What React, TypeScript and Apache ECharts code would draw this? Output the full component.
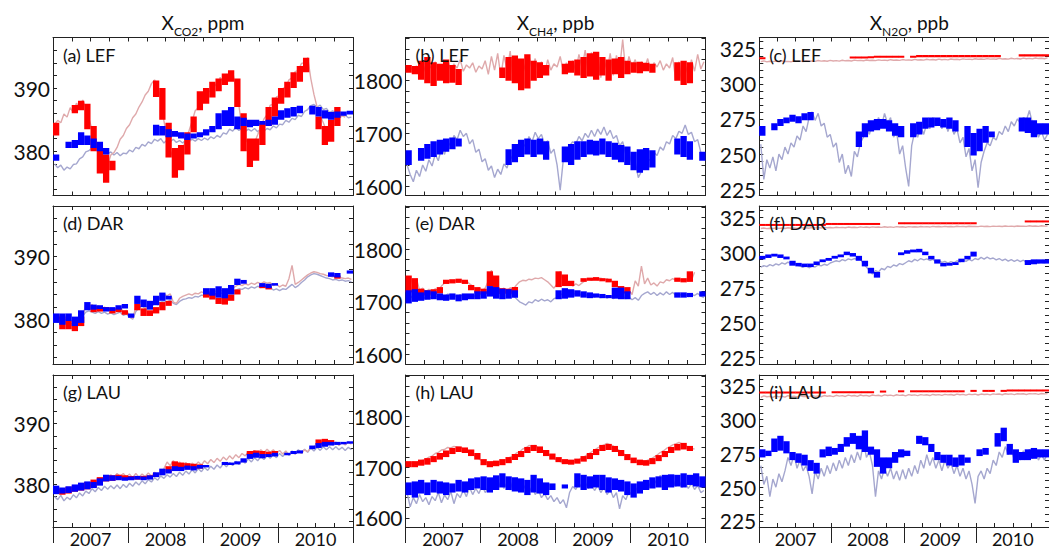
import React, { useEffect, useRef } from "react";
import * as echarts from "echarts";

// ---------- time grids ----------
const YEAR0 = 2007;
const HALF_T = Array.from({ length: 96 }, (_, k) => YEAR0 + (k + 0.5) / 24);
const MONTH_T = Array.from({ length: 48 }, (_, m) => YEAR0 + (m + 0.5) / 12);

// ---------- axis ticks / labels ----------
const QUARTER_TICKS = [2007.25, 2007.5, 2007.75, 2008, 2008.25, 2008.5, 2008.75, 2009, 2009.25, 2009.5, 2009.75, 2010, 2010.25, 2010.5, 2010.75];
const YEAR_TICKS = [2007, 2008, 2009, 2010, 2011];
const YEAR_LABEL_POS = [2007.5, 2008.5, 2009.5, 2010.5];
const CO2_TICKS = [374, 376, 378, 380, 382, 384, 386, 388, 390, 392, 394, 396, 398];
const CO2_LABELS = [380, 390];
const CH4_TICKS = [1600, 1620, 1640, 1660, 1680, 1700, 1720, 1740, 1760, 1780, 1800, 1820, 1840, 1860, 1880];
const CH4_LABELS = [1600, 1700, 1800];
const N2O_TICKS = [225, 230, 235, 240, 245, 250, 255, 260, 265, 270, 275, 280, 285, 290, 295, 300, 305, 310, 315, 320, 325, 330];
const N2O_LABELS = [225, 250, 275, 300, 325];

// ---------- (a) LEF CO2 ----------
const aPink = [384.2,384.9,384.5,385.9,385.4,386.9,386.1,387.6,387.0,388.1,
387.0,385.2,383.4,381.8,380.2,378.6,378.9,377.8,379.4,379.8,
380.6,381.9,382.5,383.6,384.2,385.3,385.9,387.0,387.8,388.9,
389.5,390.7,391.3,390.2,388.3,384.8,382.0,380.1,379.0,379.6,
378.9,380.4,381.9,383.2,384.7,386.4,386.9,388.5,388.2,389.8,
389.3,390.8,390.2,391.7,390.8,392.2,391.5,392.6,390.0,387.2,
383.6,382.0,381.2,380.6,381.4,382.6,383.9,385.1,385.8,387.3,
387.4,388.6,388.8,389.9,390.2,391.3,391.6,392.6,392.8,393.9,
394.0,394.8,391.5,389.0,387.0,385.6,384.5,383.2,383.8,384.6,
385.8,385.2,385.6,385.4,null,null];
const aGrey = [378.0,377.4,377.8,377.0,377.5,377.2,377.9,378.0,378.8,379.1,
379.9,380.1,380.6,380.2,380.7,380.1,380.0,379.6,379.9,379.4,
379.8,379.3,379.7,379.6,380.2,379.9,380.6,380.4,381.1,380.8,
381.5,381.2,381.9,381.6,382.0,381.3,381.8,381.5,381.9,381.4,
381.7,381.3,381.8,381.5,381.9,381.6,382.0,381.7,382.1,381.8,
382.3,382.0,382.5,382.2,382.9,382.7,383.5,383.2,383.8,383.3,
383.6,383.1,383.5,383.2,383.6,383.1,383.5,383.2,383.6,383.4,
384.0,383.7,384.3,384.2,384.9,384.6,385.2,385.0,385.7,385.5,
386.3,386.6,387.2,387.4,387.0,387.3,386.6,386.8,386.1,386.4,
385.8,386.0,385.6,385.7,385.3,385.4];
const aRed = [[382.5,384.5],null,null,[386,387.3],[386.5,388],[383.5,387.5],[380,384],[376.5,381],[375,379.5],[377,378.5],
null,null,null,null,null,null,[388.6,391.2],[385,390],[379,384.5],[375.8,380.5],
[377,381],[379.5,383],[383,385.5],[386.5,389.5],[387.5,390],[388.5,391],[389.5,391.5],[390.5,392.3],[391,392.8],[387,391.5],
[380,386],[377.5,382],[378.5,382],[381,384.5],[384,387],[385.5,388.5],[387.5,390],[388.5,391],[390,392.5],[391,393.5],
[392.5,394.8],null,[383.5,385.5],[381,384],[381.5,385],[384,387],null,null];
const aBlue = [[378.5,379.5],null,[380.5,381.5],[380.5,381.8],[381,383],[381,382.5],[380.5,382],[380,381.5],[379.5,380.5],null,
null,null,null,null,null,null,[382.5,384.2],[382.5,384],[382.2,383.5],[382.3,383.2],
[382,383],[381.8,382.8],[382,382.8],[382.2,383],[382.5,383.5],[383,384],[383.5,386],[384,386.5],[384,387],[383.5,385.5],
[384,385.3],[383.8,385],[384,385],[384.2,384.8],[384,385],[384.2,385.5],[385,386.5],[385.3,386.8],[385.5,387],[386,387.2],
null,[385.8,387.2],[385.5,387],[385.2,386.5],[385,386.2],[385.3,386.3],[385.6,386.3],[385.8,386.4]];

// ---------- (b) LEF CH4 ----------
const bPink = [1822,1826,1818,1828,1820,1832,1816,1830,1822,1836,
1818,1830,1826,1838,1820,1832,1824,1840,1818,1830,
1824,1834,1816,1828,1822,1838,1812,1846,1820,1852,
1808,1848,1820,1856,1800,1844,1790,1838,1816,1848,
1822,1842,1818,1836,1812,1840,1820,1832,1826,1846,
1818,1834,1822,1838,1818,1850,1824,1858,1812,1854,
1820,1846,1806,1842,1818,1852,1810,1848,1822,1878,
1816,1846,1826,1840,1820,1836,1824,1842,1818,1834,
1826,1838,1820,1832,1824,1844,1800,1836,1792,1830,
1810,1840,1818,1850,1822,1836];
const bGrey = [1640,1622,1608,1630,1618,1640,1628,1650,1638,1660,
1648,1672,1660,1684,1676,1696,1688,1706,1694,1700,
1680,1688,1664,1670,1646,1652,1630,1638,1616,1632,
1622,1642,1634,1658,1648,1670,1660,1682,1674,1694,
1684,1702,1690,1698,1680,1686,1662,1670,1640,1592,
1650,1666,1676,1684,1680,1694,1686,1700,1692,1706,
1694,1708,1698,1712,1696,1706,1690,1696,1676,1684,
1660,1664,1640,1646,1616,1628,1640,1652,1648,1664,
1658,1674,1668,1684,1680,1696,1690,1704,1700,1716,
1698,1702,1684,1688,1664,1656];
const bRed = [[1815,1830],[1812,1828],[1802,1838],[1795,1845],[1790,1835],[1800,1832],[1795,1840],[1796,1830],[1792,1822],null,
null,null,null,null,null,[1805,1825],[1800,1845],[1795,1848],[1782,1842],[1785,1850],
[1800,1838],[1805,1835],[1810,1830],null,null,[1812,1832],[1815,1838],[1810,1840],[1805,1845],[1808,1852],
[1802,1855],[1810,1845],[1800,1840],[1812,1842],[1805,1845],[1812,1838],[1815,1835],[1814,1836],[1818,1834],[1815,1832],
null,null,null,[1800,1835],[1792,1838],[1795,1835],null,null];
const bBlue = [[1640,1668],null,[1648,1672],[1652,1680],[1655,1685],[1660,1688],[1665,1690],[1670,1692],[1675,1690],null,
null,null,null,null,null,null,[1640,1670],[1645,1680],[1655,1688],[1660,1690],
[1655,1688],[1660,1690],[1650,1685],null,null,[1645,1675],[1640,1680],[1650,1685],[1655,1685],[1660,1688],
[1658,1686],[1660,1690],[1655,1685],[1650,1682],[1645,1678],[1640,1675],[1630,1665],[1625,1670],[1630,1672],[1635,1668],
null,null,null,[1660,1690],[1655,1695],[1650,1685],null,[1648,1665]];

// ---------- (c) LEF N2O ----------
const cPink = [315.8,316.3,315.6,316.1,315.8,316.2,315.7,316.3,315.9,316.0,
315.7,316.4,316.0,316.2,315.9,316.5,316.1,316.3,316.0,316.6,
316.2,316.4,316.1,316.7,316.3,316.5,316.2,316.8,316.4,316.6,
316.3,316.9,316.5,316.7,316.4,317.0,316.6,316.8,316.5,317.1,
316.7,316.9,316.6,317.2,316.8,317.0,316.7,317.3,316.9,317.1,
316.8,317.4,317.0,317.2,316.9,317.5,317.1,317.3,317.0,317.6,
317.2,317.4,317.1,317.7,317.3,317.5,317.2,317.8,317.4,317.6,
317.3,317.9,317.5,317.7,317.4,318.0,317.6,317.8,317.5,318.1,
317.7,317.9,317.6,318.2,317.8,318.0,317.7,318.3,317.9,318.1,
317.8,318.4,318.0,318.2,317.9,318.5];
const cGrey = [257,232,246,240,248,238,250,246,255,250,
258,255,263,260,270,266,276,280,274,279,
270,272,262,264,255,258,244,250,236,242,
234,252,248,258,262,268,264,272,268,276,
270,279,272,276,262,266,250,256,240,227,
256,266,262,270,264,272,268,276,270,275,
268,274,266,272,264,268,258,262,248,254,
238,246,226,244,252,258,256,262,260,266,
264,270,266,273,270,275,272,276,274,281,
272,268,262,266,260,264];
const cRed = [[317.5,318.5],null,null,null,null,null,null,null,null,null,
null,null,null,null,null,[318,319.3],[318,319.3],[318,319.3],[318.3,319.5],[318.5,320],
[318.5,320],[318.5,320],[318.5,320],[318.5,319.5],null,[318.5,319.8],[319,320.5],[319,320.5],[319,320.5],[319,320.5],
[319,320.5],[319,320.5],[319,320.5],[319,320.5],[319,320.5],[319,320.5],[319,320.5],[319,320.5],[319,320.5],[319,320.5],
null,null,null,[319.5,321],[319.5,321],[319.5,321],[319.5,321],[319.5,321]];
const cBlue = [[263,270],null,[267,272],[270,275],[272,276],[273,278],[272,277],[274,279],[274,280],null,
null,null,null,null,null,null,[255,266],[262,272],[266,274],[267,275],
[268,275],[266,274],[263,272],[262,270],null,[262,272],[264,273],[268,276],[269,276],[270,276],
[269,275],[268,276],[266,274],null,[255,270],[249,265],[252,268],[258,270],[262,266],null,
null,null,null,[266,276],[265,276],[262,274],[264,272],[264,272]];

// ---------- (d) DAR CO2 ----------
const dPink = [380.2,379.6,380.0,379.4,379.8,379.2,379.6,379.3,379.9,380.3,
382.6,382.2,382.4,381.9,382.2,381.8,382.0,381.6,381.8,381.4,
381.7,381.9,381.3,381.5,380.6,380.2,382.0,383.2,382.6,381.8,
382.3,382.0,382.8,383.2,383.6,384.0,383.8,384.1,382.8,382.6,
383.4,383.7,383.9,384.1,383.9,384.2,384.1,384.4,384.2,384.5,
384.3,384.6,384.4,384.7,384.5,384.8,384.6,385.0,385.3,385.6,
385.4,385.7,385.5,385.8,385.6,385.9,385.7,386.0,385.8,385.9,
385.4,385.7,385.2,385.5,385.3,386.5,388.6,385.6,385.9,386.3,
386.7,387.1,387.4,387.6,387.5,387.3,387.2,387.0,386.9,386.8,
386.9,386.7,386.6,386.5,386.6,386.4];
const dGrey = [380.6,380.1,380.4,379.8,380.2,379.6,380.0,379.7,380.2,380.6,
381.2,381.4,381.2,381.0,381.3,381.0,381.2,380.9,381.1,380.8,
381.0,381.2,380.7,380.9,380.4,380.1,381.3,381.9,382.2,381.8,
382.4,382.1,382.6,382.4,382.8,383.0,382.8,383.1,382.6,382.4,
382.9,383.2,383.3,383.5,383.4,383.7,383.6,383.9,383.8,384.0,
383.9,384.2,384.0,384.3,384.1,384.4,384.2,384.5,384.7,384.9,
384.8,385.1,384.9,385.2,385.0,385.3,385.1,385.4,385.2,385.1,
384.7,384.9,384.6,384.9,384.8,385.2,385.6,385.1,385.4,385.9,
386.3,386.8,387.1,387.3,387.2,387.0,386.8,386.6,386.5,386.3,
386.4,386.2,386.3,386.1,386.2,386.0];
const dRed = [[379.8,380.8],[378.5,380.5],[378.5,379.8],[378.2,379.5],[379,380.5],null,[381.2,382.2],[381.3,382],[381.5,382],[381,381.8],
[381.2,381.8],[380.8,381.5],null,[381.5,382.5],[380.6,381.8],[380.6,381.5],[381,382],[381.5,382.8],[382.2,383],null,
null,null,null,null,[383.5,384.5],[383.2,384.3],[382.5,383.5],[382.4,383.6],[383,384],[384,384.8],
null,null,null,[385,385.6],[384.8,385.3],null,null,null,null,null,
null,null,null,null,null,[386.5,387],null,null];
const dBlue = [[379.5,381],[379.2,381],[379.8,381],[379,380.5],[379.5,381.5],[381.5,382.8],[381.6,382.4],[381.7,382.3],[381.3,382],[381.4,382],
[381.6,382.3],[381.8,382.5],[380.3,381],[382.5,383.8],[382,383.2],[381.6,383],[382.3,383.8],[383,384.3],[383.2,383.8],null,
null,null,null,null,[384,385],[383.8,385],[383.5,385.3],[383.4,385],[384,385.5],[385.5,386.5],
[385.7,386.3],null,null,[385.2,385.8],[385,385.7],[385.4,385.8],null,null,null,null,
null,null,null,null,[386.8,387.5],[386.7,387.4],null,[387.3,387.8]];

// ---------- (e) DAR CH4 ----------
const ePink = [1724,1748,1730,1744,1722,1726,1719,1724,1718,1725,
1722,1730,1736,1740,1738,1741,1739,1742,1738,1740,
1734,1730,1724,1727,1721,1726,1740,1760,1738,1728,
1722,1726,1720,1727,1724,1732,1738,1741,1740,1743,
1742,1745,1744,1746,1742,1738,1732,1726,1734,1758,
1736,1732,1735,1730,1734,1731,1736,1740,1743,1741,
1744,1742,1745,1741,1744,1740,1738,1730,1726,1720,
1716,1722,1714,1740,1730,1768,1734,1745,1732,1736,
1730,1738,1736,1742,1740,1744,1741,1743,1740,1742,
1739,1741,1756,null,null,null];
const eGrey = [1704,1712,1706,1714,1708,1712,1705,1710,1706,1712,
1708,1714,1710,1715,1711,1713,1709,1714,1710,1712,
1708,1713,1710,1716,1713,1718,1720,1724,1719,1723,
1718,1722,1716,1719,1712,1706,1700,1697,1694,1700,
1698,1704,1701,1705,1702,1704,1700,1706,1708,1716,
1712,1718,1714,1719,1713,1717,1711,1715,1710,1714,
1709,1713,1708,1712,1707,1711,1706,1710,1707,1711,
1706,1709,1704,1708,1703,1712,1716,1719,1714,1718,
1712,1717,1713,1719,1714,1718,1712,1716,1711,1715,
1710,1714,1712,1716,1711,1708];
const eRed = [[1718,1750],[1718,1745],[1712,1725],[1712,1722],[1714,1724],[1716,1728],[1734,1742],[1735,1743],[1736,1744],[1734,1742],
[1722,1732],[1718,1728],[1715,1725],[1730,1758],[1725,1750],[1715,1726],[1716,1725],[1718,1728],null,null,
null,null,null,null,[1728,1758],[1730,1752],[1730,1740],null,[1738,1745],[1740,1746],
[1740,1747],[1739,1745],[1737,1744],[1728,1740],[1718,1730],[1716,1728],null,null,null,null,
null,null,null,[1738,1746],[1737,1745],[1738,1758],null,null];
const eBlue = [[1697,1722],[1700,1724],[1702,1718],[1704,1722],[1705,1720],[1703,1716],[1702,1714],[1704,1716],[1701,1714],[1703,1716],
[1705,1716],[1705,1720],[1706,1720],[1710,1730],[1706,1728],[1705,1725],[1706,1724],[1708,1722],null,null,
null,null,null,null,[1705,1722],[1706,1726],[1708,1724],[1710,1722],[1708,1720],[1707,1718],
[1708,1716],[1707,1715],[1707,1713],[1706,1727],[1705,1727],[1705,1720],null,null,null,null,
null,null,null,[1708,1718],[1708,1718],[1709,1717],null,[1710,1720]];

// ---------- (f) DAR N2O ----------
const fPink = [317.0,317.3,316.9,317.2,317.0,317.4,317.1,317.3,317.0,317.5,
317.2,317.4,317.1,317.6,317.3,317.5,317.2,317.7,317.4,317.6,
317.3,317.8,317.5,317.7,317.4,317.9,317.6,317.8,317.5,318.0,
317.7,317.9,317.6,318.1,317.8,318.0,317.7,318.1,317.9,318.0,
317.8,318.2,317.9,318.1,317.8,318.3,318.0,318.2,317.9,318.3,
318.1,318.2,318.0,318.4,318.1,318.3,318.0,318.5,318.2,318.4,
318.1,318.5,318.2,318.4,318.1,318.6,318.3,318.5,318.2,318.6,
318.4,318.5,318.3,318.7,318.4,318.6,318.3,318.7,318.5,318.6,
318.4,318.8,318.5,318.7,318.4,318.8,318.6,318.7,318.5,318.9,
318.6,318.8,318.5,318.9,318.7,318.8];
const fGrey = [289.5,290.5,289.8,291.2,290.4,291.8,291.0,292.5,291.6,293.0,
291.8,292.6,291.0,290.2,289.4,290.5,289.0,290.2,289.6,291.0,
290.4,291.5,290.8,292.4,293.2,294.0,293.4,294.8,294.0,295.4,
294.6,295.6,294.8,295.2,292.0,289.5,287.0,284.5,287.0,286.0,
288.5,287.6,290.0,289.2,291.0,290.2,292.0,291.2,292.6,294.0,
293.2,295.0,294.0,295.6,294.6,295.4,294.2,295.0,293.4,294.2,
292.8,293.6,292.4,293.4,292.6,294.0,293.2,294.6,293.6,295.0,
294.0,295.6,294.8,296.4,295.2,296.6,295.4,296.0,294.6,295.6,
294.2,295.2,293.8,294.8,293.6,294.6,293.4,294.4,293.0,294.0,
292.6,293.6,292.4,293.2,292.6,293.0];
const fRed = [[318.8,320],[318.8,320],[318.8,320],[318.8,320],[318.8,320],[318.8,320],[318.8,320],[318.8,320],[318.8,320],[318.8,320],
[318.8,320],[319.5,320.5],[319.5,320.5],[319.5,320.5],[319.5,320.5],[319.5,320.5],[319.5,320.5],[319.5,320.5],[319.5,320.5],[319.5,320.5],
null,null,null,[320,321],[320,321],[320,321],[320,321],[320,321],[320,321],[320,321],
[320,321],[320,321],[320,321],[320,321],[320,321],[320,321],null,null,null,null,
null,null,null,null,[321.3,322.5],[321.3,322.5],[321.3,322.5],[321.3,322.5]];
const fBlue = [[295,297.5],[296,298.5],[297,299],[296,298.5],[295,297],[290.5,294],[290,292.5],[289.5,292],[289.5,292],[291,293.5],
[293,295],[294,296],[295.5,297.5],[296.5,298.5],[298,300.5],[297,299.5],[294,297.5],[290,294],[285,289],[282,286],
null,null,null,[298,300],[299,301.5],[300,302],[300,302.5],[298,300.5],[295,297.5],[292,295],
[290,292.5],[290.5,292.5],[291,293],[293,295.5],[295,297.5],[297,300.5],null,null,null,null,
null,null,null,null,[291,294.5],[291.5,295],[292,295],[292,295]];

// ---------- (g) LAU CO2 ----------
const gPink = [379.0,378.5,379.3,378.7,379.4,378.8,379.4,379.0,379.7,379.2,
379.9,379.5,380.4,379.9,380.8,380.5,381.3,380.9,381.6,381.1,
381.8,381.3,381.8,381.2,381.7,381.1,381.8,381.2,381.7,381.3,
381.9,381.4,382.0,381.5,382.1,382.6,383.7,383.1,383.9,383.2,
383.7,383.1,383.6,383.0,383.5,383.1,383.7,383.2,383.9,383.4,
384.1,383.6,384.3,383.8,384.5,384.0,384.7,384.2,384.9,384.4,
385.1,384.7,385.4,384.9,385.6,385.1,385.7,385.2,385.8,385.3,
385.7,385.1,385.6,385.0,385.5,384.9,385.4,385.0,385.5,385.1,
385.7,385.4,386.1,386.1,386.9,386.4,387.3,386.6,387.1,386.5,
387.0,386.4,386.9,386.5,387.0,386.6];
const gGrey = [378.0,377.5,378.2,377.3,377.9,377.5,378.3,377.8,378.6,378.1,
378.9,378.5,379.3,378.8,379.5,379.0,379.7,379.2,379.8,379.3,
379.9,379.3,380.0,379.5,380.2,379.7,380.4,379.9,380.6,380.1,
380.8,380.4,381.1,380.7,381.4,381.0,381.6,381.2,381.8,381.3,
382.0,381.5,382.2,381.7,382.4,381.9,382.6,382.1,382.8,382.3,
383.0,382.5,383.2,382.7,383.4,382.9,383.6,383.1,383.8,383.3,
384.0,383.5,384.2,383.7,384.4,383.9,384.6,384.1,384.8,384.3,
384.9,384.4,385.1,384.6,385.3,384.8,385.5,385.0,385.7,385.2,
385.8,385.3,386.0,385.5,386.1,385.6,386.2,385.7,386.2,385.7,
386.2,385.7,386.1,385.6,386.1,385.7];
const gRed = [[378.5,379.5],[378.3,379.3],[378.5,379.6],[378.8,379.8],[379,380],[379.2,380.4],[379.5,380.8],[380,381.2],[380.5,381.5],[380.6,381.5],
[380.8,381.6],[380.8,381.5],[380.9,381.4],[380.8,381.3],[380.9,381.4],[381,381.5],null,null,[382,383],[382.8,383.8],
[382.6,383.6],[382.7,383.5],[382.5,383.4],[382.6,383.3],null,null,null,null,null,null,
null,[384.8,385.5],[384.8,385.6],[384.7,385.5],[384.8,385.4],[384.9,385.5],null,null,null,null,
null,null,[386.6,387.4],[386.5,387.5],[386.6,387.3],null,null,null];
const gBlue = [[378.4,379.8],[378.5,379.5],[378.6,379.7],[378.8,380],[379,380.3],[379.2,380.5],[379.4,380.4],[379.8,381],[380.5,381.6],[380.6,381.5],
[380.7,381.4],[380.6,381.2],[380.7,381.3],[380.8,381.4],[380.7,381.3],[380.8,381.5],[381.2,382],[381.5,382.6],[381.8,382.5],[382.2,383],
[382.2,382.9],[382.4,383.1],[382.3,383],[382.6,383.2],[382.8,383.2],null,null,[383.2,383.7],[383.2,383.6],[383.3,383.8],
[383.6,384.3],[384.2,385],[384.4,385.2],[384.3,385],[384.5,385],[384.6,385.2],null,[384.8,385.2],[385,385.5],[385.1,385.6],
null,[385.8,386.4],[386,386.8],[386.2,387],[386.4,387],[386.5,387],[386.6,387],[386.7,387.1]];

// ---------- (h) LAU CH4 ----------
const hPink = [1709,1707,1710,1708,1712,1714,1716,1720,1722,1727,
1729,1734,1735,1739,1738,1741,1740,1739,1736,1734,
1729,1726,1720,1717,1712,1711,1708,1710,1708,1711,
1710,1714,1715,1720,1722,1728,1730,1736,1738,1743,
1741,1743,1738,1736,1730,1727,1721,1718,1713,1711,
1708,1710,1709,1711,1712,1715,1718,1722,1726,1730,
1734,1738,1741,1744,1747,1744,1742,1737,1733,1728,
1723,1719,1714,1711,1709,1710,1711,1714,1716,1720,
1724,1729,1732,1737,1740,1744,1746,1749,1746,1742,
1740,1737,1736,null,null,null];
const hGrey = [1650,1622,1640,1628,1646,1632,1640,1626,1642,1634,
1650,1630,1645,1636,1652,1628,1648,1640,1655,1642,
1660,1646,1658,1648,1664,1650,1660,1652,1668,1656,
1672,1658,1670,1655,1676,1660,1668,1654,1666,1650,
1662,1646,1655,1640,1648,1636,1644,1632,1640,1628,
1636,1620,1650,1662,1656,1668,1660,1670,1658,1666,
1654,1664,1650,1660,1646,1656,1640,1650,1618,1644,
1636,1652,1646,1660,1652,1668,1658,1672,1660,1676,
1666,1684,1670,1678,1664,1676,1662,1674,1660,1670,
1658,1668,1656,1664,1650,1654];
const hRed = [[1700,1712],[1700,1712],[1703,1715],[1705,1718],[1710,1722],[1715,1728],[1720,1733],[1726,1738],[1730,1741],[1728,1739],
[1722,1735],[1715,1728],[1704,1716],[1700,1712],[1702,1713],[1704,1716],[1708,1720],[1714,1726],[1720,1732],[1728,1740],
[1732,1744],[1728,1741],[1722,1734],[1715,1727],[1710,1720],[1706,1716],[1705,1715],[1707,1717],[1711,1722],[1716,1728],
[1724,1736],[1732,1744],[1734,1746],[1730,1742],[1722,1734],[1714,1726],[1708,1719],[1704,1715],[1703,1714],[1706,1718],
[1712,1724],[1720,1732],[1728,1740],[1733,1746],[1735,1748],[1732,1742],null,null];
const hBlue = [[1645,1670],[1640,1672],[1648,1675],[1645,1670],[1650,1675],[1648,1672],[1645,1670],[1650,1668],[1652,1675],[1650,1672],
[1655,1678],[1658,1680],[1655,1682],[1650,1680],[1655,1684],[1660,1688],[1655,1682],[1652,1680],[1650,1678],[1645,1675],
[1650,1685],[1648,1678],[1645,1670],[1655,1668],null,[1658,1666],null,[1660,1688],[1655,1685],[1658,1682],
[1660,1685],[1655,1685],[1650,1680],[1655,1678],[1652,1675],[1645,1672],[1640,1668],[1648,1672],[1655,1675],[1658,1680],
[1660,1682],[1655,1685],[1660,1686],[1662,1685],[1660,1688],[1665,1685],[1662,1688],[1660,1682]];

// ---------- (i) LAU N2O ----------
const iPink = [316.5,317.6,316.9,317.2,316.4,317.5,316.8,317.3,316.6,317.7,
317.0,317.4,316.7,317.8,317.1,317.3,316.8,317.9,317.2,317.5,
316.9,317.8,317.3,317.6,317.0,318.0,317.4,317.7,317.1,318.1,
317.5,317.8,317.2,318.2,317.6,317.9,317.3,318.2,317.7,318.0,
317.4,318.3,317.8,318.1,317.5,318.4,317.9,318.2,317.6,318.5,
318.0,318.3,317.7,318.5,318.1,318.4,317.8,318.6,318.2,318.5,
317.9,318.7,318.3,318.6,318.0,318.8,318.4,318.7,318.1,318.8,
318.5,318.8,318.2,318.9,318.6,318.8,318.3,319.0,318.7,318.9,
318.4,319.1,318.8,319.0,318.5,319.1,318.9,319.1,318.6,319.2,
319.0,319.2,318.7,319.3,319.0,319.2];
const iGrey = [266,252,258,243,256,250,260,254,262,272,
266,274,264,270,262,266,258,245,262,256,
264,258,266,260,268,262,270,264,272,266,
274,268,276,270,284,272,276,266,243,262,
256,264,258,264,256,262,255,263,256,264,
258,266,260,270,264,274,266,272,264,270,
262,270,264,268,260,266,258,264,256,262,
252,238,258,262,256,264,260,270,266,276,
272,280,274,278,270,276,270,277,272,278,
271,276,270,274,270,275];
const iRed = [[319.3,320.3],[319.3,320.3],[319.3,320.3],[319.3,320.3],[319.3,320.3],[319.3,320.3],[319.3,320.3],[319.3,320.3],[319.3,320.3],[319.3,320.3],
[319.3,320.3],null,[319.5,320.5],[319.5,320.5],[319.5,320.5],[319.5,320.5],[319.5,320.5],[319.5,320.5],[319.5,320.5],null,
[320,321],null,null,[320.2,321],null,[320.2,321.2],[320.2,321.2],[320.2,321.2],[320.2,321.2],[320.2,321.2],
[320.2,321.2],[320.2,321.2],[320.2,321.2],[320.2,321.2],null,[320.5,321.3],null,[320.5,321.3],[320.5,321.3],null,
[320.5,321.3],[320.8,321.6],[320.8,321.6],[320.8,321.6],[320.8,321.6],[320.8,321.6],[320.8,321.6],[320.8,321.6]];
const iBlue = [[272,278],[273,277],[276,286],[277,288],[275,284],[270,276],[268,275],[266,274],[262,270],[260,268],
[272,278],[273,280],[274,279],[276,282],[280,287],[282,290],[278,288],[276,292],[274,280],[265,278],
[260,272],[264,272],[268,276],[272,278],[273,277],null,[282,288],[281,287],[276,282],[270,276],
[268,274],[266,274],[265,272],[266,274],[268,272],null,[273,278],[274,279],null,[280,290],
[284,294],[274,282],[268,278],[270,276],[270,278],[271,279],[272,278],[272,278]];

// ---------- layout / style ----------
const FONT = "Lato";
const COL_LEFT = [53, 405.5, 759.3];
const ROW_TOP = [37.5, 206, 375];
const PW = 300;
const PH = 158;
const PINK = "#dfa9ab";
const GREY = "#a5a7cf";
const RED = "#ff0000";
const BLUE = "#0000ff";
const AXIS_COLOR = "#222";

const AXES: any = {
  co2: { min: 373, max: 398, ticks: CO2_TICKS, labels: CO2_LABELS },
  ch4: { min: 1582, max: 1882, ticks: CH4_TICKS, labels: CH4_LABELS },
  n2o: { min: 220.5, max: 333, ticks: N2O_TICKS, labels: N2O_LABELS },
};
const COL_TITLES = [
  ["CO2", "ppm"],
  ["CH4", "ppb"],
  ["N2O", "ppb"],
];

const PANELS = [
  { label: "(a) LEF", kind: "co2", pink: aPink, grey: aGrey, red: aRed, blue: aBlue },
  { label: "(b) LEF", kind: "ch4", pink: bPink, grey: bGrey, red: bRed, blue: bBlue },
  { label: "(c) LEF", kind: "n2o", pink: cPink, grey: cGrey, red: cRed, blue: cBlue },
  { label: "(d) DAR", kind: "co2", pink: dPink, grey: dGrey, red: dRed, blue: dBlue },
  { label: "(e) DAR", kind: "ch4", pink: ePink, grey: eGrey, red: eRed, blue: eBlue },
  { label: "(f) DAR", kind: "n2o", pink: fPink, grey: fGrey, red: fRed, blue: fBlue },
  { label: "(g) LAU", kind: "co2", pink: gPink, grey: gGrey, red: gRed, blue: gBlue },
  { label: "(h) LAU", kind: "ch4", pink: hPink, grey: hGrey, red: hRed, blue: hBlue },
  { label: "(i) LAU", kind: "n2o", pink: iPink, grey: iGrey, red: iRed, blue: iBlue },
];

function lineSeries(vals: (number | null)[], color: string, idx: number) {
  const data: any[] = [];
  vals.forEach((v, k) => {
    if (v != null) data.push([HALF_T[k], v]);
  });
  return {
    type: "line",
    xAxisIndex: idx,
    yAxisIndex: idx,
    data,
    showSymbol: false,
    symbol: "none",
    silent: true,
    z: 2,
    lineStyle: { color, width: 1.4 },
  };
}

function rangeSeries(vals: any[], color: string, idx: number) {
  const data: any[] = [];
  vals.forEach((r, m) => {
    if (r) data.push([MONTH_T[m], r[0], r[1]]);
  });
  return {
    type: "custom",
    xAxisIndex: idx,
    yAxisIndex: idx,
    data,
    clip: true,
    silent: true,
    z: 3,
    encode: { x: 0, y: [1, 2] },
    renderItem: (params: any, api: any) => {
      const t = api.value(0);
      const pLo = api.coord([t, api.value(1)]);
      const pHi = api.coord([t, api.value(2)]);
      const w = 6.3;
      const h = Math.max(pLo[1] - pHi[1], 2);
      return {
        type: "rect",
        shape: { x: pLo[0] - w / 2, y: pLo[1] - h, width: w, height: h },
        style: { fill: color },
      };
    },
  };
}

function buildOption() {
  const grid: any[] = [];
  const xAxis: any[] = [];
  const yAxis: any[] = [];
  const series: any[] = [];
  const graphic: any[] = [];

  PANELS.forEach((p, i) => {
    const r = Math.floor(i / 3);
    const c = i % 3;
    grid.push({ left: COL_LEFT[c], top: ROW_TOP[r], width: PW, height: PH });
  });
  PANELS.forEach((p, i) => {
    xAxis.push({
      type: "value", gridIndex: i, position: "bottom", min: 2007, max: 2011,
      axisLine: { show: true, onZero: false, lineStyle: { color: AXIS_COLOR, width: 1 } },
      axisTick: { show: true, inside: true, length: 4, customValues: QUARTER_TICKS, lineStyle: { color: AXIS_COLOR } },
      axisLabel: { show: false }, splitLine: { show: false },
    });
  });
  PANELS.forEach((p, i) => {
    xAxis.push({
      type: "value", gridIndex: i, position: "top", min: 2007, max: 2011,
      axisLine: { show: true, onZero: false, lineStyle: { color: AXIS_COLOR, width: 1 } },
      axisTick: { show: true, inside: true, length: 4, customValues: QUARTER_TICKS, lineStyle: { color: AXIS_COLOR } },
      axisLabel: { show: false }, splitLine: { show: false },
    });
  });
  [6, 7, 8].forEach((i) => {
    xAxis.push({
      type: "value", gridIndex: i, position: "bottom", min: 2007, max: 2011,
      axisLine: { show: false, onZero: false },
      axisTick: { show: true, inside: false, length: 16, customValues: YEAR_TICKS, lineStyle: { color: AXIS_COLOR } },
      axisLabel: {
        show: true, customValues: YEAR_LABEL_POS, margin: 3,
        formatter: (v: number) => String(Math.floor(v)),
        fontSize: 18, fontFamily: FONT, color: "#111",
      },
      splitLine: { show: false },
    });
  });
  PANELS.forEach((p, i) => {
    const a = AXES[p.kind];
    yAxis.push({
      type: "value", gridIndex: i, position: "left", min: a.min, max: a.max,
      axisLine: { show: true, onZero: false, lineStyle: { color: AXIS_COLOR, width: 1 } },
      axisTick: { show: true, inside: true, length: 4, customValues: a.ticks, lineStyle: { color: AXIS_COLOR } },
      axisLabel: {
        show: true, customValues: a.labels, margin: 3, fontSize: 21, fontFamily: FONT, color: "#111",
        formatter: (v: number) => String(v),
      },
      splitLine: { show: false },
    });
  });
  PANELS.forEach((p, i) => {
    const a = AXES[p.kind];
    yAxis.push({
      type: "value", gridIndex: i, position: "right", min: a.min, max: a.max,
      axisLine: { show: true, onZero: false, lineStyle: { color: AXIS_COLOR, width: 1 } },
      axisTick: { show: true, inside: true, length: 4, customValues: a.ticks, lineStyle: { color: AXIS_COLOR } },
      axisLabel: { show: false }, splitLine: { show: false },
    });
  });

  PANELS.forEach((p, i) => {
    series.push(lineSeries(p.grey, GREY, i));
    series.push(lineSeries(p.pink, PINK, i));
    series.push(rangeSeries(p.red, RED, i));
    series.push(rangeSeries(p.blue, BLUE, i));
    const r = Math.floor(i / 3);
    const c = i % 3;
    graphic.push({
      type: "text", x: COL_LEFT[c] + 10, y: ROW_TOP[r] + 17, z: 100,
      style: { text: p.label, fontSize: 18, fontFamily: FONT, fill: "#111", verticalAlign: "middle", align: "left" },
    });
  });

  COL_TITLES.forEach((t, c) => {
    graphic.push({
      type: "text", x: COL_LEFT[c] + PW / 2, y: 22, z: 100,
      style: {
        text: "{m|X}{s|" + t[0] + "}{m|, " + t[1] + "}",
        align: "center", verticalAlign: "middle",
        rich: {
          m: { fontSize: 19, fontFamily: FONT, fill: "#111", lineHeight: 30, verticalAlign: "middle" },
          s: { fontSize: 12, fontFamily: FONT, fill: "#111", lineHeight: 30, verticalAlign: "bottom" },
        },
      },
    });
  });

  return {
    animation: false,
    backgroundColor: "#ffffff",
    grid, xAxis, yAxis, series, graphic,
  };
}

export default function App() {
  const ref = useRef<HTMLDivElement>(null);
  useEffect(() => {
    if (!ref.current) return;
    const chart = echarts.init(ref.current, null, { renderer: "svg" });
    chart.setOption(buildOption() as any);
    return () => chart.dispose();
  }, []);
  return (
    <div
      ref={ref}
      style={{ position: "fixed", left: 0, top: 0, width: 1049, height: 548, background: "#fff" }}
    />
  );
}
